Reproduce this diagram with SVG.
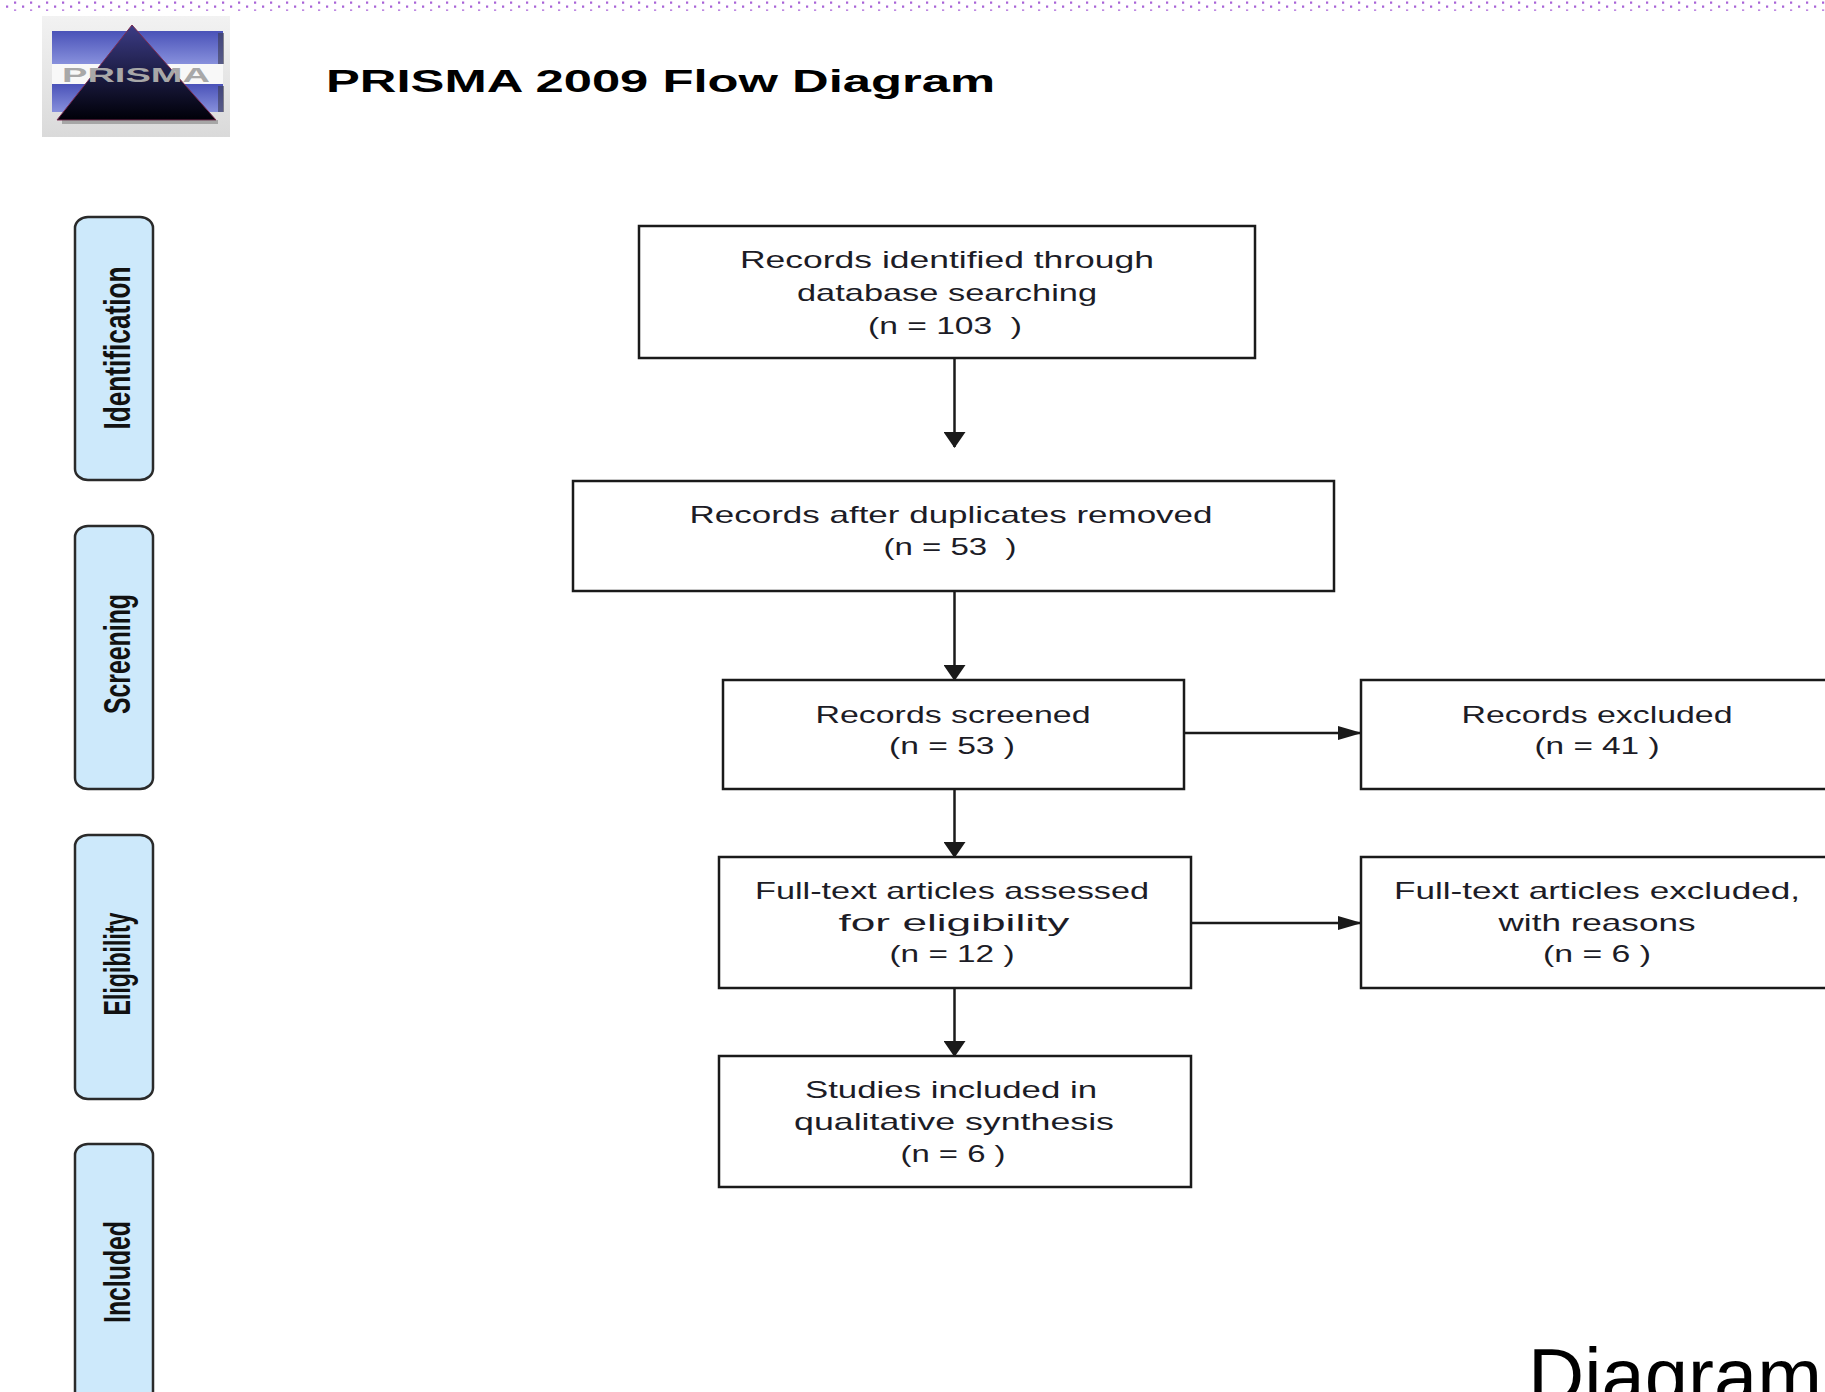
<svg xmlns="http://www.w3.org/2000/svg" width="1825" height="1392" viewBox="0 0 1825 1392">
<style>
.box{fill:#fff;stroke:#1a1a1a;stroke-width:2.5}
.side{fill:#cde9fb;stroke:#2a2a2a;stroke-width:2.5}
.t{font-family:"Liberation Sans",Arial,sans-serif;font-size:24px;fill:#1c1c26;text-anchor:middle}
.st{font-family:"Liberation Sans",Arial,sans-serif;font-size:36px;font-weight:bold;fill:#111;text-anchor:middle}
.title{font-family:"Liberation Sans",Arial,sans-serif;font-size:31px;font-weight:bold;fill:#000}
.conn{stroke:#1a1a1a;stroke-width:2.5;fill:none}
.dots{stroke:#a964d8;fill:none}
</style>
<defs>
<marker id="av" markerUnits="userSpaceOnUse" markerWidth="16" markerHeight="22" refX="15" refY="11" orient="auto" viewBox="0 0 16 22">
<path d="M0,0 L16,11 L0,22 z" fill="#1a1a1a"/>
</marker>
<marker id="ah" markerUnits="userSpaceOnUse" markerWidth="24" markerHeight="14" refX="23" refY="7" orient="auto" viewBox="0 0 24 14">
<path d="M0,0 L24,7 L0,14 z" fill="#1a1a1a"/>
</marker>
<linearGradient id="lbg" x1="0" y1="0" x2="0" y2="1">
<stop offset="0" stop-color="#f2f2f2"/><stop offset="1" stop-color="#dadada"/>
</linearGradient>
<linearGradient id="lblue" x1="0" y1="0" x2="0" y2="1">
<stop offset="0" stop-color="#4a52b8"/><stop offset="1" stop-color="#8790dc"/>
</linearGradient>
<linearGradient id="ltri" x1="0" y1="0" x2="0" y2="1">
<stop offset="0" stop-color="#3c3c86"/><stop offset="1" stop-color="#000008"/>
</linearGradient>
</defs>

<g id="topborder">
<line class="dots" x1="14" y1="2.7" x2="1825" y2="2.7" stroke-width="2.2" stroke-dasharray="2.2 13.8"/>
<line class="dots" x1="6" y1="6.7" x2="1825" y2="6.7" stroke-width="2.2" stroke-dasharray="2.2 13.8"/>
<line class="dots" x1="14" y1="10.2" x2="1825" y2="10.2" stroke-width="1.2" stroke-dasharray="2.2 13.8"/>
</g>

<g id="logo">
<rect x="42" y="16" width="188" height="121" fill="url(#lbg)"/>
<rect x="52" y="31" width="171" height="33" fill="url(#lblue)"/>
<rect x="218" y="33" width="6" height="31" fill="#3a3a50" opacity="0.6"/>
<rect x="52" y="64" width="171" height="20" fill="#f8f8f8"/>
<rect x="52" y="84" width="171" height="28" fill="url(#lblue)"/>
<rect x="218" y="86" width="6" height="26" fill="#3a3a50" opacity="0.6"/>
<polygon points="132,25 216,120 57,120" fill="url(#ltri)" stroke="#7a2a50" stroke-width="1"/>
<rect x="62" y="120" width="156" height="4" fill="#555" opacity="0.4"/>
<text x="62" y="82" font-family="'Liberation Sans',sans-serif" font-weight="bold" font-size="20" fill="#a8a8a8" textLength="148" lengthAdjust="spacingAndGlyphs">PRISMA</text>
</g>

<g id="title">
<text class="title" x="326" y="92" textLength="669" lengthAdjust="spacingAndGlyphs">PRISMA 2009 Flow Diagram</text>
</g>

<g id="side-identification">
<rect class="side" x="75" y="217" width="78" height="263" rx="13" ry="11"/>
<text class="st" transform="translate(130,348) rotate(-90)" textLength="163" lengthAdjust="spacingAndGlyphs">Identification</text>
</g>
<g id="side-screening">
<rect class="side" x="75" y="526" width="78" height="263" rx="13" ry="11"/>
<text class="st" transform="translate(130,654) rotate(-90)" textLength="120" lengthAdjust="spacingAndGlyphs">Screening</text>
</g>
<g id="side-eligibility">
<rect class="side" x="75" y="835" width="78" height="264" rx="13" ry="11"/>
<text class="st" transform="translate(130,964) rotate(-90)" textLength="103" lengthAdjust="spacingAndGlyphs">Eligibility</text>
</g>
<g id="side-included">
<rect class="side" x="75" y="1144" width="78" height="280" rx="13" ry="11"/>
<text class="st" transform="translate(130,1272) rotate(-90)" textLength="102" lengthAdjust="spacingAndGlyphs">Included</text>
</g>

<g id="connectors">
<line class="conn" x1="954.5" y1="358" x2="954.5" y2="447" marker-end="url(#av)"/>
<line class="conn" x1="954.5" y1="591" x2="954.5" y2="680" marker-end="url(#av)"/>
<line class="conn" x1="954.5" y1="789" x2="954.5" y2="857" marker-end="url(#av)"/>
<line class="conn" x1="954.5" y1="988" x2="954.5" y2="1056" marker-end="url(#av)"/>
<line class="conn" x1="1184" y1="733" x2="1361" y2="733" marker-end="url(#ah)"/>
<line class="conn" x1="1186" y1="923" x2="1361" y2="923" marker-end="url(#ah)"/>
</g>

<g id="n-identified">
<rect class="box" x="639" y="226" width="616" height="132"/>
<text class="t" x="947" y="268" textLength="414" lengthAdjust="spacingAndGlyphs">Records identified through</text>
<text class="t" x="947" y="301" textLength="300" lengthAdjust="spacingAndGlyphs">database searching</text>
<text class="t" x="945" y="334" textLength="154" lengthAdjust="spacingAndGlyphs" xml:space="preserve">(n = 103  )</text>
</g>

<g id="n-duplicates">
<rect class="box" x="573" y="481" width="761" height="110"/>
<text class="t" x="951" y="523" textLength="523" lengthAdjust="spacingAndGlyphs">Records after duplicates removed</text>
<text class="t" x="950" y="555" textLength="133" lengthAdjust="spacingAndGlyphs" xml:space="preserve">(n = 53  )</text>
</g>

<g id="n-screened">
<rect class="box" x="723" y="680" width="461" height="109"/>
<text class="t" x="953" y="723" textLength="275" lengthAdjust="spacingAndGlyphs">Records screened</text>
<text class="t" x="952" y="754" textLength="126" lengthAdjust="spacingAndGlyphs">(n = 53 )</text>
</g>

<g id="n-excluded">
<rect class="box" x="1361" y="680" width="470" height="109"/>
<text class="t" x="1597" y="723" textLength="271" lengthAdjust="spacingAndGlyphs">Records excluded</text>
<text class="t" x="1597" y="754" textLength="125" lengthAdjust="spacingAndGlyphs">(n = 41 )</text>
</g>

<g id="n-assessed">
<rect class="box" x="719" y="857" width="472" height="131"/>
<text class="t" x="952" y="899" textLength="394" lengthAdjust="spacingAndGlyphs">Full-text articles assessed</text>
<text class="t" x="954" y="931" textLength="231" lengthAdjust="spacingAndGlyphs">for eligibility</text>
<text class="t" x="952" y="962" textLength="125" lengthAdjust="spacingAndGlyphs">(n = 12 )</text>
</g>

<g id="n-fulltext-excluded">
<rect class="box" x="1361" y="857" width="470" height="131"/>
<text class="t" x="1597" y="899" textLength="406" lengthAdjust="spacingAndGlyphs">Full-text articles excluded,</text>
<text class="t" x="1597" y="931" textLength="197" lengthAdjust="spacingAndGlyphs">with reasons</text>
<text class="t" x="1597" y="962" textLength="108" lengthAdjust="spacingAndGlyphs">(n = 6 )</text>
</g>

<g id="n-included">
<rect class="box" x="719" y="1056" width="472" height="131"/>
<text class="t" x="951" y="1098" textLength="292" lengthAdjust="spacingAndGlyphs">Studies included in</text>
<text class="t" x="954" y="1130" textLength="320" lengthAdjust="spacingAndGlyphs">qualitative synthesis</text>
<text class="t" x="953" y="1162" textLength="105" lengthAdjust="spacingAndGlyphs">(n = 6 )</text>
</g>

<g id="caption">
<text x="1528" y="1403" font-family="'Liberation Sans',Arial,sans-serif" font-size="78" fill="#000" textLength="294" lengthAdjust="spacingAndGlyphs">Diagram</text>
</g>
</svg>
